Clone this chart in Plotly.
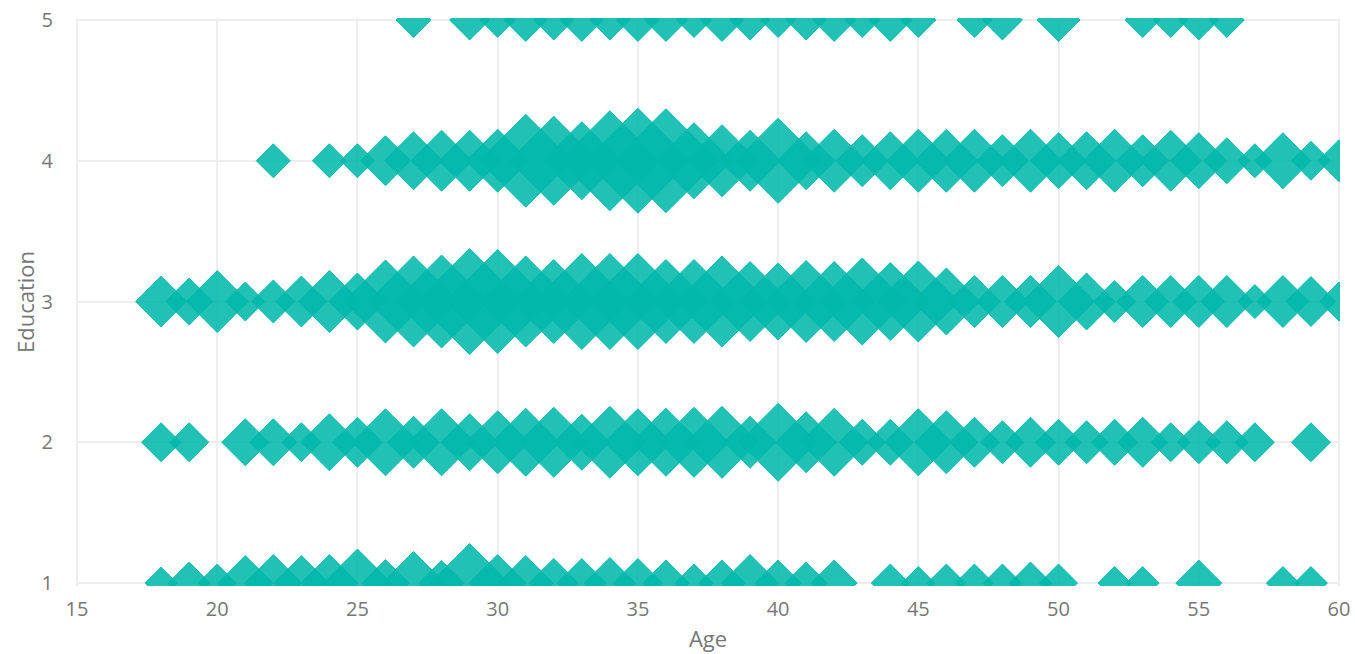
import plotly.graph_objects as go

# For each education level, the ages present and the bubble value at each age.
ages_5 = [27, 29, 30, 31, 32, 33, 34, 35, 36, 37, 38, 39, 40, 41, 42, 43, 44, 45, 47, 48, 50, 53, 54, 55, 56]
vals_5 = [35, 40, 35, 43, 40, 43, 40, 43, 43, 35, 43, 40, 35, 40, 43, 35, 43, 35, 35, 40, 43, 35, 35, 40, 35]

ages_4 = [22, 24, 25, 26, 27, 28, 29, 30, 31, 32, 33, 34, 35, 36, 37, 38, 39, 40, 41, 42, 43,
          44, 45, 46, 47, 48, 49, 50, 51, 52, 53, 54, 55, 56, 57, 58, 59, 60]
vals_4 = [34, 34, 34, 50, 58, 61, 61, 63, 93, 89, 78, 100, 105, 104, 76, 72, 61, 85, 58, 63, 52,
          58, 63, 63, 63, 52, 63, 56, 58, 63, 52, 61, 56, 46, 34, 56, 39, 42]

ages_3 = [18, 19, 20, 21, 22, 23, 24, 25, 26, 27, 28, 29, 30, 31, 32, 33, 34, 35, 36, 37, 38,
          39, 40, 41, 42, 43, 44, 45, 46, 47, 48, 49, 50, 51, 52, 53, 54, 55, 56, 57, 58, 59, 60]
vals_3 = [51, 47, 62, 39, 43, 51, 62, 57, 83, 91, 93, 106, 104, 91, 84, 96, 96, 96, 84, 84, 91,
          80, 77, 82, 80, 87, 78, 81, 67, 52, 52, 52, 72, 57, 42, 52, 52, 52, 52, 34, 52, 50, 39]

ages_2 = [18, 19, 21, 22, 23, 24, 25, 26, 27, 28, 29, 30, 31, 32, 33, 34, 35, 36, 37, 38, 39,
          40, 41, 42, 43, 44, 45, 46, 47, 48, 49, 50, 51, 52, 53, 54, 55, 56, 57, 59]
vals_2 = [39, 39, 47, 47, 39, 57, 50, 67, 52, 67, 57, 63, 68, 70, 56, 72, 67, 68, 70, 72, 52,
          78, 61, 68, 46, 46, 67, 63, 50, 43, 50, 46, 43, 46, 50, 39, 43, 43, 39, 39]

ages_1 = [18, 19, 20, 21, 22, 23, 24, 25, 26, 27, 28, 29, 30, 31, 32, 33, 34, 35, 36, 37, 38,
          39, 40, 41, 42, 44, 45, 46, 47, 48, 49, 50, 52, 53, 55, 58, 59]
vals_1 = [32, 42, 38, 55, 57, 55, 57, 68, 47, 63, 45, 79, 57, 55, 49, 49, 51, 49, 46, 38, 46,
          57, 46, 42, 46, 38, 33, 38, 38, 38, 42, 38, 33, 33, 46, 33, 33]

x_ticks = [15, 20, 25, 30, 35, 40, 45, 50, 55, 60]
y_ticks = [1, 2, 3, 4, 5]

levels = [(1, ages_1, vals_1), (2, ages_2, vals_2), (3, ages_3, vals_3), (4, ages_4, vals_4), (5, ages_5, vals_5)]

TEXT = "#777777"
FONT = "Open Sans"

fig = go.Figure()
for edu, ages, vals in levels:
    fig.add_trace(go.Scatter(
        x=ages, y=[edu] * len(ages), mode="markers", name=str(edu), showlegend=False,
        marker=dict(symbol="diamond", size=vals, sizemode="diameter", sizeref=1.3, opacity=1,
                    color="rgba(1,184,170,0.87)", line=dict(color="rgba(1,184,170,0.9)", width=1)),
        hovertemplate="Age %{x}<br>Education %{y}<extra></extra>",
    ))

fig.update_layout(
    width=1355, height=654,
    margin=dict(l=76, r=15, t=18, b=68, autoexpand=False),
    paper_bgcolor="white", plot_bgcolor="white",
    font=dict(family=FONT, size=20, color=TEXT),
    xaxis=dict(title=dict(text="Age", font=dict(size=22, color=TEXT), standoff=10),
               range=[14.964, 60.036], tickvals=x_ticks, showgrid=True, gridcolor="#EEEEEE", gridwidth=2,
               zeroline=False, ticks="", showline=False, ticklabeloverflow="allow", ticklabelstandoff=9,
               automargin=False),
    yaxis=dict(title=dict(text="Education", font=dict(size=22, color=TEXT), standoff=0),
               range=[0.979, 5.014], tickvals=y_ticks, showgrid=True, gridcolor="#EEEEEE", gridwidth=2,
               zeroline=False, ticks="", showline=False, ticklabeloverflow="allow", ticklabelstandoff=22,
               automargin=False),
)

fig.write_html("out.html", config={"displayModeBar": False},
               post_script="document.body.style.margin='0';document.body.style.overflow='hidden';")
